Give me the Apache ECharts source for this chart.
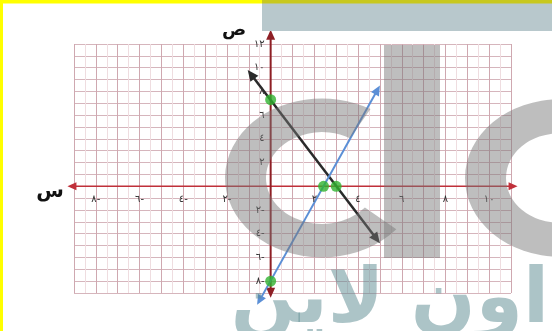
<!DOCTYPE html>
<html><head><meta charset="utf-8">
<script src="https://cdn.jsdelivr.net/npm/echarts@6/dist/echarts.min.js"></script>
<style>html,body{margin:0;padding:0;background:#fff;}#c{width:552px;height:331px;}</style>
</head><body><div id="c"></div>
<script>
// axis ranges and tick labels
const xRange = [-9, 11];
const yRange = [-9, 12];
const xTickLabels = [-8, -6, -4, -2, 2, 4, 6, 8, 10];
const yTickLabels = [-8, -6, -4, -2, 2, 4, 6, 8, 10, 12];
// drawn lines (endpoints with arrowheads): [x1, y1, x2, y2]
const blackLine = [-1.05, 9.8, 5.0, -4.8];
const blueLine = [-0.62, -10.0, 5.0, 8.5];
// axis arrows extending past the grid
const xAxisArrow = [-9.3, 0, 11.3, 0];
const yAxisArrow = [0, -9.4, 0, 13.2];
// highlighted points
const greenPoints = [[0, 7.3], [0, -8.0], [2.42, 0], [3.0, 0]];

const AR = '٠١٢٣٤٥٦٧٨٩';
function toArabic(v) {
  const s = String(Math.abs(v)).replace(/\d/g, d => AR[+d]);
  return v < 0 ? s + '-' : s;
}

const chart = echarts.init(document.getElementById('c'), null, {renderer: 'canvas'});

function arrowSeries(name, rows, color, width, head, hw, z) {
  return {
    type: 'custom', name: name, clip: false, z: z, silent: true,
    data: rows,
    renderItem: function (params, api) {
      const p1 = api.coord([api.value(0), api.value(1)]);
      const p2 = api.coord([api.value(2), api.value(3)]);
      const dx = p2[0] - p1[0], dy = p2[1] - p1[1];
      const L = Math.sqrt(dx * dx + dy * dy), ux = dx / L, uy = dy / L;
      const nx = -uy, ny = ux;
      function headAt(tip, dir) {
        const bx = tip[0] - dir * ux * head, by = tip[1] - dir * uy * head;
        return {type: 'polygon', shape: {points: [tip, [bx + nx * hw, by + ny * hw], [bx - nx * hw, by - ny * hw]]},
          style: {fill: color}};
      }
      return {type: 'group', children: [
        {type: 'line', shape: {x1: p1[0] + ux * head * 0.6, y1: p1[1] + uy * head * 0.6,
          x2: p2[0] - ux * head * 0.6, y2: p2[1] - uy * head * 0.6},
          style: {stroke: color, lineWidth: width}},
        headAt(p1, -1), headAt(p2, 1)
      ]};
    }
  };
}

// tick labels placed beside the zero lines, positioned through the axis scales
function labelSeries(values, isX) {
  return {
    type: 'custom', clip: false, z: 6, silent: true,
    data: values.map(v => isX ? [v, 0] : [0, v]),
    renderItem: function (params, api) {
      const vx = api.value(0), vy = api.value(1);
      const p = api.coord([vx, vy]);
      const txt = toArabic(isX ? vx : vy);
      return {type: 'text', x: isX ? p[0] : p[0] - 6, y: isX ? p[1] + 8 : p[1],
        style: {text: txt, font: '10px "DejaVu Sans"', fill: '#333',
          align: isX ? 'center' : 'right', textAlign: isX ? 'center' : 'right',
          verticalAlign: isX ? 'top' : 'middle', textVerticalAlign: isX ? 'top' : 'middle'}};
    }
  };
}

const wm = 'rgba(120,120,120,0.48)';
const option = {
  animation: false,
  backgroundColor: '#ffffff',
  grid: {left: 74, right: 41, top: 44, bottom: 38},
  xAxis: {
    type: 'value', min: xRange[0], max: xRange[1], interval: 1,
    axisLine: {show: false},
    axisTick: {show: false},
    splitLine: {show: true, lineStyle: {color: '#cfa8b0', width: 1}},
    minorTick: {show: false, splitNumber: 2},
    minorSplitLine: {show: true, lineStyle: {color: '#efdde0', width: 1}},
    axisLabel: {show: false}
  },
  yAxis: {
    type: 'value', min: yRange[0], max: yRange[1], interval: 1,
    axisLine: {show: false},
    axisTick: {show: false},
    splitLine: {show: true, lineStyle: {color: '#d6b5bc', width: 1}},
    axisLabel: {show: false}
  },
  series: [
    arrowSeries('xaxis', [xAxisArrow], '#c0303a', 1.5, 9, 4, 3),
    arrowSeries('yaxis', [yAxisArrow], '#8e1f25', 2, 10, 4.5, 3),
    arrowSeries('black', [blackLine], '#2a2a2a', 2.5, 11, 5, 4),
    arrowSeries('blue', [blueLine], '#5b8fd6', 2, 10, 4.5, 4),
    {type: 'scatter', data: greenPoints, symbol: 'circle', symbolSize: 11, clip: false, z: 5,
      itemStyle: {color: '#2fb32f'}, silent: true},
    labelSeries(xTickLabels, true),
    labelSeries(yTickLabels, false)
  ],
  graphic: [
    // watermark shapes
    {type: 'sector', x: 322, y: 178, scaleY: 0.82, z: 100, silent: true,
      shape: {cx: 0, cy: 0, r: 97, r0: 56, startAngle: 40 * Math.PI / 180, endAngle: 300 * Math.PI / 180, clockwise: true},
      style: {fill: wm}},
    {type: 'rect', z: 100, silent: true, shape: {x: 384, y: 45, width: 56, height: 213}, style: {fill: wm}},
    {type: 'sector', x: 560, y: 178, scaleY: 0.83, z: 100, silent: true,
      shape: {cx: 0, cy: 0, r: 95, r0: 54, startAngle: 0, endAngle: Math.PI * 2}, style: {fill: wm}},
    {type: 'text', x: 549, y: 302, z: 101, silent: true,
      style: {text: 'اون لاين', font: 'bold 76px "DejaVu Sans"', fill: 'rgba(90,138,144,0.5)', align: 'right', verticalAlign: 'middle'}},
    // frame pieces
    {type: 'rect', z: 102, silent: true, shape: {x: 262, y: 3, width: 290, height: 28}, style: {fill: '#b8c8cc'}},
    {type: 'rect', z: 102, silent: true, shape: {x: 0, y: 0, width: 262, height: 3.5}, style: {fill: '#ffff00'}},
    {type: 'rect', z: 102, silent: true, shape: {x: 262, y: 0, width: 290, height: 3.5}, style: {fill: '#c8c81e'}},
    {type: 'rect', z: 102, silent: true, shape: {x: 0, y: 0, width: 3, height: 331}, style: {fill: '#ffff00'}},
    // axis names
    {type: 'text', x: 234, y: 30, z: 103, silent: true,
      style: {text: 'ص', font: 'bold 18px "DejaVu Sans"', fill: '#111', align: 'center', verticalAlign: 'middle'}},
    {type: 'text', x: 50, y: 192, z: 103, silent: true,
      style: {text: 'س', font: 'bold 20px "DejaVu Sans"', fill: '#111', align: 'center', verticalAlign: 'middle'}}
  ]
};
chart.setOption(option);
</script></body></html>
